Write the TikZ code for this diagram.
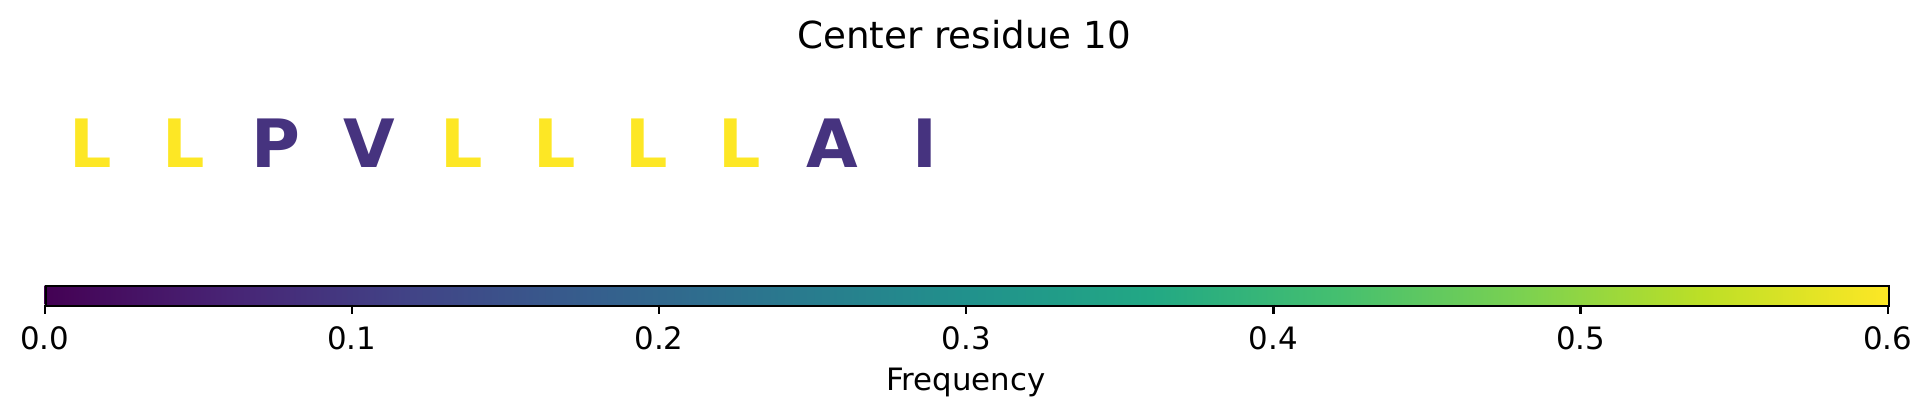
\documentclass[tikz,border=0pt]{standalone}
\usepackage{fontspec}
\setmainfont{DejaVu Sans}
\definecolor{vyel}{HTML}{FDE725}
\definecolor{vpur}{HTML}{46337F}
\pgfdeclarehorizontalshading{viridis}{100bp}{%
rgb(0bp)=(0.267,0.004,0.329);
rgb(25bp)=(0.267,0.004,0.329);
rgb(30bp)=(0.282,0.141,0.459);
rgb(35bp)=(0.255,0.267,0.529);
rgb(40bp)=(0.208,0.373,0.553);
rgb(45bp)=(0.165,0.471,0.557);
rgb(50bp)=(0.129,0.569,0.549);
rgb(55bp)=(0.133,0.659,0.518);
rgb(60bp)=(0.267,0.749,0.439);
rgb(65bp)=(0.478,0.820,0.318);
rgb(70bp)=(0.741,0.875,0.149);
rgb(75bp)=(0.992,0.906,0.145);
rgb(100bp)=(0.992,0.906,0.145)}
\tikzset{
  logo/.style={inner sep=0pt, anchor=base, font=\fontsize{24}{28}\selectfont\bfseries},
  ticklab/.style={inner sep=0pt, anchor=base, font=\fontsize{11.1}{13}\selectfont},
  tickmark/.style={line width=0.8pt},
}
\begin{document}
\begin{tikzpicture}[x=0.36pt, y=-0.36pt]
\useasboundingbox (0,0) rectangle (1932,416);
% title
\node[inner sep=0pt, anchor=base, font=\fontsize{13.4}{15}\selectfont] (title) at (964,48.5) {Center residue 10};
% letters
\foreach \ch/\col [count=\i from 0] in {L/vyel,L/vyel,P/vpur,V/vpur,L/vyel,L/vyel,L/vyel,L/vyel,A/vpur,I/vpur}{
  \node[logo, text=\col] (let\i) at ({91+92.67*\i},167.3) {\ch};
}
% colorbar
\shade[shading=viridis] (44.7,285) rectangle (1887.7,304.7);
\node[draw, line width=0.8pt, inner sep=0pt, minimum width=1843*0.36pt, minimum height=19.7*0.36pt, anchor=north west] (cbar) at (44.7,285) {};
\foreach \v [count=\k from 0] in {0.0,0.1,0.2,0.3,0.4,0.5,0.6}{
  \coordinate (tk\k) at ({44.7+307.17*\k},304.7);
  \coordinate (te\k) at ({44.7+307.17*\k},314.4);
  \draw[tickmark] (tk\k) -- (te\k);
  \node[ticklab] (tl\k) at ({44.7+307.17*\k},349) {\v};
}
\node[ticklab] (xlabel) at (966,390) {Frequency};
\end{tikzpicture}
\end{document}
